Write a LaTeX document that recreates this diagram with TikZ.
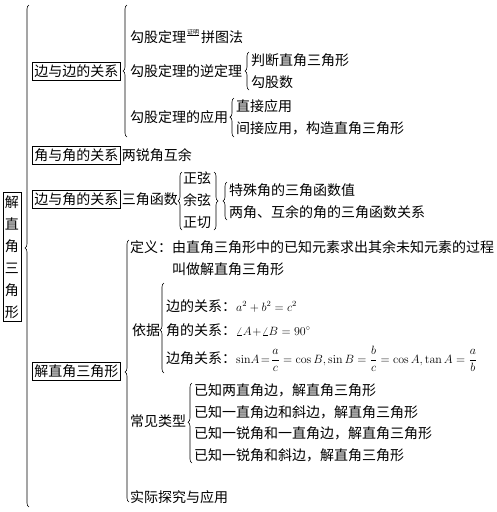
\documentclass[tikz,border=0pt]{standalone}
\usepackage{amsmath}
\usepackage[no-math]{fontspec}
\setmainfont{Noto Sans CJK SC}
\usetikzlibrary{positioning}
\usetikzlibrary{decorations.pathreplacing}

\begin{document}
\begin{tikzpicture}[x=1pt,y=-1pt,node distance=0pt,
  txt/.style={inner sep=0pt,anchor=west,text height=12pt,text depth=2pt,font=\fontsize{14}{16}\selectfont},
  box/.style={txt,draw,line width=0.6pt,inner xsep=2pt,minimum height=18pt},
  lbrace/.style={decorate,decoration={brace,amplitude=4pt,aspect=#1},line width=0.6pt},
  lbrace/.default=0.5]

\useasboundingbox (0,0) rectangle (497,512);

\node [draw,line width=0.6pt,inner xsep=2pt,inner ysep=3pt,align=center,font=\fontsize{14}{22}\selectfont] (root) at (12,257) {解\\直\\角\\三\\角\\形};

\node [box] (bb) at (32,71) {边与边的关系};
\node [box] (jj) at (32,155) {角与角的关系};
\node [box] (bj) at (32,199) {边与角的关系};
\node [box] (jie) at (32,371) {解直角三角形};

\node [txt,right=1pt of jj] (hy) {两锐角互余};
\node [txt,right=1pt of bj] (sj) {三角函数};
\node [txt] (zx) at (183,178) {正弦};
\node [txt] (yx) at (183,200) {余弦};
\node [txt] (zq) at (183,222) {正切};
\node [txt] (ts) at (229,190) {特殊角的三角函数值};
\node [txt] (lj) at (229,212) {两角、互余的角的三角函数关系};

\node [txt] (gg) at (130,37) {勾股定理};
\node [inner sep=0pt,anchor=south west,font=\fontsize{6}{6}\selectfont] (zm) at (187,35.5) {证明};
\node [txt] (pt) at (201,37) {拼图法};
\node [txt] (ni) at (130,71) {勾股定理的逆定理};
\node [txt] (pd) at (251,60) {判断直角三角形};
\node [txt] (gs) at (251,82) {勾股数};
\node [txt] (yy) at (130,117) {勾股定理的应用};
\node [txt] (zj) at (236,106) {直接应用};
\node [txt] (jd) at (236,128) {间接应用，构造直角三角形};

\node [txt] (dy) at (130,247) {定义：由直角三角形中的已知元素求出其余未知元素的过程};
\node [txt] (dyb) at (172,269) {叫做解直角三角形};
\node [txt] (yj) at (132,330) {依据};
\node [txt] (yj1) at (166,306) {边的关系：{\fontsize{12}{14}\selectfont$a^2+b^2=c^2$}};
\node [txt] (yj2) at (166,330) {角的关系：{\fontsize{12}{14}\selectfont$\angle A\!+\!\angle B=90^\circ$}};
\node [txt] (yj3) at (166,358) {边角关系：{\fontsize{12}{14}\selectfont$\sin\!A\!=\!\dfrac{a}{c}=\cos B,\sin B=\dfrac{b}{c}=\cos A,\tan A=\dfrac{a}{b}$}};
\node [txt] (lx) at (130,421) {常见类型};
\node [txt] (lx1) at (194,390) {已知两直角边，解直角三角形};
\node [txt] (lx2) at (194,412) {已知一直角边和斜边，解直角三角形};
\node [txt] (lx3) at (194,433) {已知一锐角和一直角边，解直角三角形};
\node [txt] (lx4) at (194,455) {已知一锐角和斜边，解直角三角形};
\node [txt] (sy) at (130,497) {实际探究与应用};

\coordinate (b0t) at (29,5);
\coordinate (b0b) at (29,507);
\coordinate (b1t) at (127,5);
\coordinate (b1b) at (127,137);
\coordinate (b2t) at (249,52);
\coordinate (b2b) at (249,90);
\coordinate (b3t) at (234,98);
\coordinate (b3b) at (234,137);
\coordinate (b4t) at (182,172);
\coordinate (b4b) at (182,230);
\coordinate (b5t) at (214,172);
\coordinate (b5b) at (214,230);
\coordinate (b6t) at (227,182);
\coordinate (b6b) at (227,220);
\coordinate (b7t) at (129,240);
\coordinate (b7b) at (129,502);
\coordinate (b8t) at (164,283);
\coordinate (b8b) at (164,373);
\coordinate (b9t) at (192,383);
\coordinate (b9b) at (192,463);

\draw [line width=0.6pt] (zm.south west) -- (zm.south east);
\draw [lbrace=0.516] (b0b) -- (b0t);
\draw [lbrace=0.5] (b1b) -- (b1t);
\draw [lbrace=0.5] (b2b) -- (b2t);
\draw [lbrace=0.51] (b3b) -- (b3t);
\draw [lbrace=0.5] (b4b) -- (b4t);
\draw [lbrace=0.5] (b5t) -- (b5b);
\draw [lbrace=0.5] (b6b) -- (b6t);
\draw [lbrace=0.496] (b7b) -- (b7t);
\draw [lbrace=0.478] (b8b) -- (b8t);
\draw [lbrace=0.51] (b9b) -- (b9t);

\end{tikzpicture}
\end{document}
